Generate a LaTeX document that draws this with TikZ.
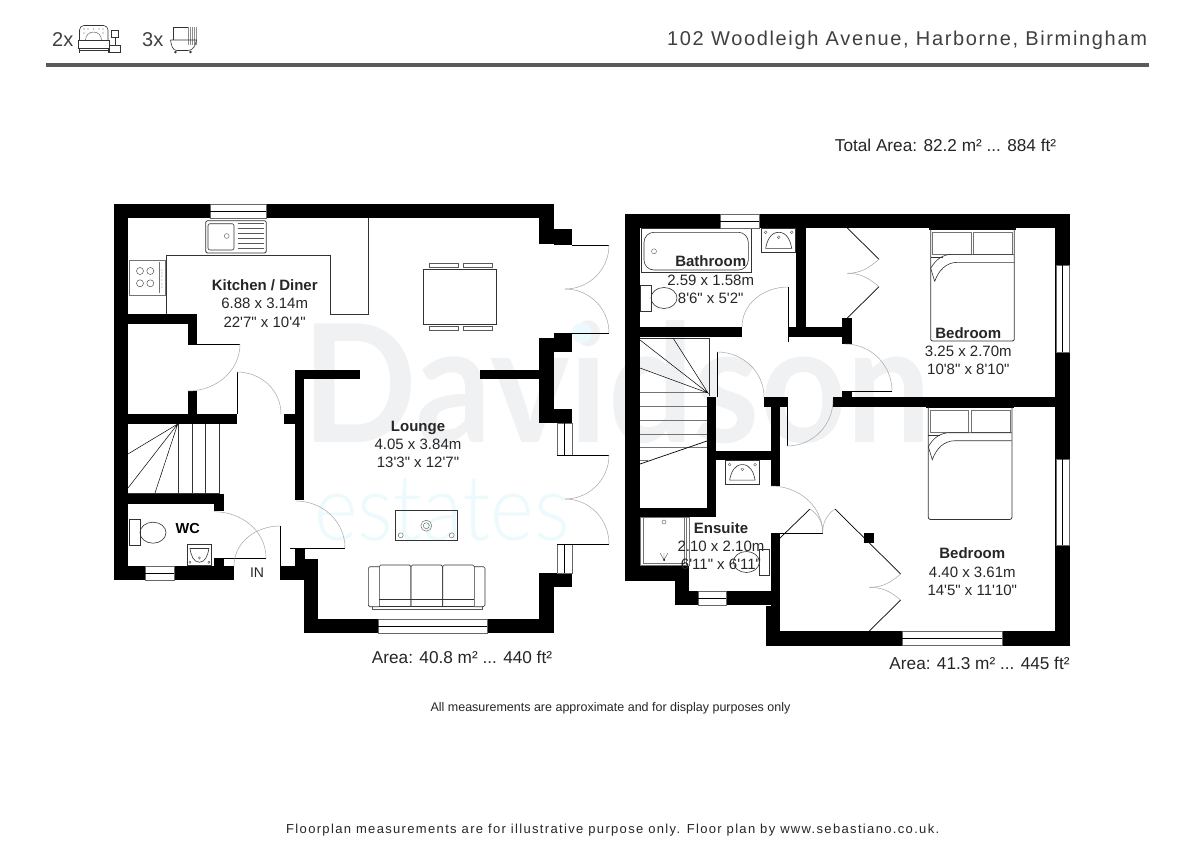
\documentclass[tikz,border=0pt]{standalone}
\usepackage{fontspec}
\newfontfamily\planfont{Liberation Sans}
\newfontfamily\headfont{Liberation Sans}[LetterSpace=8.3]
\newfontfamily\footfont{Liberation Sans}[LetterSpace=10.3]
\newfontfamily\markfont{Lato}
\newfontfamily\estatefont{Lato Light}
\definecolor{markgrey}{HTML}{F0F1F3}
\definecolor{markblue}{HTML}{ECFAFD}
\definecolor{rulegrey}{HTML}{5A5A5A}
\tikzset{
    toiletpic/.pic={
        \draw[kit] (0,0) rectangle (10.6,26);
        \draw[kit] (23.3,13) ellipse [x radius=13pt, y radius=10.5pt];
    },
    basinpic/.pic={
        \draw[kit,line width=.8pt] (0,0) rectangle (34,24.4);
        \draw[kit] (4,20) to[out=80,in=180] (17,4) to[out=0,in=100] (30,20) -- cycle;
        \foreach \cx/\cy in {4/4,30/4,17/9}
            \draw[thinkit] (\cx,\cy) circle [radius=1.4pt];
    },
    bedpic/.pic={
        \fill (-2,0) rectangle (85.6,1.5);
        \draw[kit,line width=.8pt,rounded corners=2pt] (0,0) -- (0,112.7) -- (83.6,112.7) -- (83.6,0);
        \draw[softkit] (1.6,4) rectangle (40.3,26);
        \draw[softkit] (42.6,4) rectangle (81.6,26);
        \draw[kit] (83.4,26) -- (22,26) to[out=180,in=60] (0,40) -- (4,53) to[out=70,in=180] (27,34) -- (83.4,34);
        \draw[kit] (0,29) -- (12,29);
    }
}
\begin{document}
\begin{tikzpicture}[x=1pt, y=-1pt,
    every node/.style={inner sep=0pt, font=\planfont},
    wall/.style={fill=black},
    kit/.style={draw=black!80, line width=.6pt},
    softkit/.style={draw=black!55, line width=.8pt},
    thinkit/.style={draw=black!65, line width=.4pt},
    doorleaf/.style={draw=black, line width=.7pt},
    doorswing/.style={draw=black!35, line width=.5pt},
    windowbox/.style={fill=white, draw=black!60, line width=.5pt},
    roomlabel/.style={align=center, text=black!85, font=\planfont\fontsize{15}{18.3}\selectfont},
    arealabel/.style={text=black!85, font=\planfont\fontsize{17.2}{18}\selectfont}]
    \useasboundingbox (0,0) rectangle (1200,848);
    \fill[white] (0,0) rectangle (1200,848);

    % logo behind the plan
    \node (markname) [anchor=base west, transform shape, xscale=.92, text=markgrey, font=\markfont\bfseries\fontsize{164}{164}\selectfont] at (302,442) {Davidson};
    \node (markplace) [anchor=base west, transform shape, xscale=.91, text=markblue, font=\estatefont\fontsize{92}{92}\selectfont] at (314,540) {estates};
    \fill[markblue] (581.7,333) circle [radius=10pt];

    % header
    \node (bedcount) [anchor=west, text=black!75, font=\planfont\fontsize{20}{20}\selectfont] at (52,40) {2x};
    \node (bathcount) [anchor=west, text=black!75, font=\planfont\fontsize{20}{20}\selectfont] at (142,40) {3x};
    \node (address) [anchor=west, text=black!75, font=\headfont\fontsize{20}{20}\selectfont] at (667,40) {102 Woodleigh Avenue, Harborne, Birmingham};
    \fill[rulegrey] (46,63.5) rectangle (1149,67.5);
    \draw[kit] (79.5,40) -- (79.5,30) to[out=90,in=180] (84,25.5) -- (103.5,25.5) to[out=0,in=90] (108,30) -- (108,40);
    \draw[thinkit] (85.5,40) arc [start angle=180, end angle=0, radius=8pt];
    \foreach \dx/\dy in {84/29,88/29,93.7/29,99/29,103/29,84/33,103/33}
        \fill[black!60] (\dx,\dy) circle [radius=.6pt];
    \draw[kit] (78,40) rectangle (109,48.3);
    \draw[kit] (79,48.3) -- (79,53.3) (108,48.3) -- (108,53.3) (79,50.5) -- (108,50.5);
    \draw[kit] (109.5,45) rectangle (120,52.3);
    \draw[kit] (114.8,37.7) -- (114.8,45);
    \draw[kit] (111.5,30.7) rectangle (117.8,37.7);
    \draw[kit] (173,40) -- (173,27) -- (196,27);
    \fill[black!45] (187.5,27) rectangle (197,45.5);
    \foreach \lx in {189,191,193,195}
        \draw[white, line width=.3pt] (\lx,27) -- (\lx,45.5);
    \draw[kit] (170.5,40) -- (196.5,40) to[out=-100,in=0] (188,50.5) -- (177,50.5) to[out=180,in=-80] (170.5,40);
    \fill[black!80] (175.5,52) circle [radius=1.4pt] (190.5,52) circle [radius=1.4pt];

    % kitchen and dining furniture
    \draw[kit] (368.3,218) -- (368.3,314) -- (330.7,314) -- (330.7,255.7) -- (166.3,255.7) -- (166.3,314);
    \draw[kit,line width=.8pt,rounded corners=1.5pt] (205.7,220.7) rectangle (266.3,253);
    \draw[kit,rounded corners=2pt] (208,223.7) rectangle (234,250);
    \draw[thinkit] (226.7,236) circle [radius=2.4pt];
    \foreach \ly in {223.3,228.2,233,238,243,247.7}
        \draw[thinkit] (237.7,\ly) -- (264.3,\ly);
    \draw[softkit,line width=.5pt] (129.7,260) rectangle (165,295);
    \draw[black!55,line width=.9pt] (159.3,262) -- (159.3,293);
    \foreach \hx/\hy in {140/271,150.3/271,140/283.3,150.3/283.3}
        \draw[kit,line width=.4pt] (\hx,\hy) circle [radius=3.5pt];
    \foreach \hy in {270,273,276,284,287,280}
        \fill[black!70] (161.8,\hy) circle [radius=.5pt];
    \draw[kit,line width=.9pt] (423,269.7) rectangle (496.3,324);
    \foreach \cx in {429.3,463.3}{
        \draw[thinkit] (\cx,263.3) rectangle ++(28.4,3.7);
        \draw[thinkit] (\cx,326.3) rectangle ++(28.4,4);
    }

    % lounge furniture
    \draw[kit] (395.3,510.7) rectangle (457,540.7);
    \draw[thinkit] (426.3,525.7) circle [radius=5.5pt] (426.3,525.7) circle [radius=3pt];
    \draw[thinkit] (400.7,535.3) circle [radius=2.5pt] (451.7,535.3) circle [radius=2.5pt];
    \draw[kit,rounded corners=1.5pt] (379.3,566.7) -- (368.3,566.7) -- (368.3,606.7) -- (379.3,606.7);
    \draw[kit,rounded corners=1.5pt] (474,566.7) -- (485,566.7) -- (485,606.7) -- (474,606.7);
    \foreach \sx in {379.3,411,442.7}
        \draw[kit,rounded corners=1.5pt] (\sx,606) -- (\sx,565) -- ++(31.6,0) -- ++(0,41);
    \draw[kit] (379.3,599) -- (474,599) (379.3,606) -- (474,606);
    \draw[thinkit] (371.7,606) -- (371.7,609.3) -- (481.7,609.3) -- (481.7,606);

    % ground floor stairs and WC
    \foreach \tx in {178.3,192,205.7,219.3}
        \draw[kit] (\tx,424) -- (\tx,494);
    \draw[kit] (128,493.5) -- (219.3,493.5);
    \draw[black,line width=.5pt] (128,454) -- (177.7,424) -- (128,488) (177.7,424) -- (155,493);
    \pic at (129.7,519.7) {toiletpic};
    \pic [xscale=.73, yscale=-.86] at (187,565.7) {basinpic};

    % upper floor stairs, bathroom and ensuite
    \draw[kit,line width=.5pt] (640,338) -- (709,338) -- (709,396);
    \foreach \ly in {392.7,406.7,420.7,434.7,447.3}
        \draw[black!55,line width=.7pt] (640,\ly) -- (707,\ly);
    \draw[black!55,line width=.7pt] (640,460) -- (648,460);
    \draw[black,line width=.5pt] (640,340) -- (708,393) -- (673,338) (640,368) -- (708,393);
    \draw[black,line width=.7pt] (640,464) -- (707,441);
    \draw[kit,line width=.9pt] (641.7,228.3) rectangle (751.7,272.7);
    \draw[kit,rounded corners=10pt] (644,232.3) rectangle (748.3,270);
    \draw[thinkit] (654,251.3) circle [radius=2.5pt];
    \pic at (640.7,285) {toiletpic};
    \pic at (761.7,228.3) {basinpic};
    \pic [xscale=.98, yscale=.97] at (725.7,460.7) {basinpic};
    \draw[softkit,line width=.5pt] (640.7,517.3) rectangle (686.7,565.7);
    \draw[softkit,line width=.5pt] (643,517.3) -- (643,563.5) -- (684.5,563.5) -- (684.5,517.3);
    \draw[softkit,line width=.7pt] (686.7,517.3) -- (689,517.3) -- (689,566);
    \draw[thinkit] (664,522) circle [radius=2pt];
    \draw[thinkit] (664,560) -- (664,553) (664,560) -- (660,553) (664,560) -- (668,553);
    \fill (664,560) circle [radius=1pt];
    \pic [xscale=-1] at (769.7,549) {toiletpic};

    % beds
    \pic at (930.7,228.3) {bedpic};
    \pic at (928.3,406.7) {bedpic};

    % walls, ground floor
    \foreach \xa/\ya/\xb/\yb in {114/204/554/218, 114/204/128/580, 114/566/234/580, 128/314/197/324,
        188/314/197/344, 188/391/197/414, 128/414/237/424, 128/494/224/504, 214/504/224/511,
        214/558/224/566, 280/566/304/580, 295/548/305/566, 304/559/318/633, 304/619/554/633,
        539/573/554/633, 539/573/572/587, 539/204/554/244, 554/229/572/245, 554/333/572/352,
        539/338/554/423, 539/409/572/423, 480/370/539/379, 295/370/304/500, 295/370/360/379,
        284/414/295/424}
        \fill[wall] (\xa,\ya) rectangle (\xb,\yb);
    % walls, upper floor
    \foreach \xa/\ya/\xb/\yb in {625/214/1070/228, 625/214/640/581, 1055/214/1070/646, 766/631/1070/646,
        771/533/780/646, 766/606/780/646, 675/591/771/605, 625/566/689/581, 675/566/689/605,
        640/508/716/517, 707/397/716/517, 716/451/771/460, 771/397/780/486, 764/397/787/407,
        796/228/806/327, 789/327/852/337, 640/327/742/337, 842/318/852/344, 833/397/1055/407,
        842/391/852/397}
        \fill[wall] (\xa,\ya) rectangle (\xb,\yb);

    % windows
    \foreach \xa/\ya/\xb/\yb in {210/204/266/218, 145/566/174/580, 378/619/487/633,
        720/214/759/228, 698/591/726/605, 902/631/1002/645}{
        \draw[windowbox] (\xa,\ya) rectangle (\xb,\yb);
        \draw[black,line width=.5pt] (\xa,{(\ya+\yb)/2}) -- (\xb,{(\ya+\yb)/2});
    }
    \foreach \xa/\ya/\xb/\yb in {557/423/572/455, 557/544/572/573, 1056/265/1069/352, 1056/459/1069/545}{
        \draw[windowbox] (\xa,\ya) rectangle (\xb,\yb);
        \draw[black,line width=.5pt] ({(\xa+\xb)/2},\ya) -- ({(\xa+\xb)/2},\yb);
    }

    % door leaves
    \draw[doorleaf] (188,344) -- (240,344);
    \draw[doorleaf] (237,372) -- (237,414);
    \draw[doorleaf] (290,548) -- (345,548);
    \draw[doorleaf] (224,558) -- (266,558);
    \draw[doorleaf] (280,526) -- (280,566);
    \draw[doorleaf] (572,245) -- (609,245);
    \draw[doorleaf] (572,333) -- (609,333);
    \draw[doorleaf] (557,455) -- (609,455);
    \draw[doorleaf] (557,544) -- (609,544);
    \draw[doorleaf] (788.3,287) -- (788.3,342);
    \draw[doorleaf] (717,352) -- (717,397);
    \draw[doorleaf] (787,397) -- (787,446);
    \draw[doorleaf] (845,391) -- (892,391);
    \draw[doorleaf] (780,533.3) -- (822.7,533.3);
    \draw[doorleaf] (780,538) -- (810,509);
    \draw[doorleaf] (835,509) -- (900.7,574);
    \draw[doorleaf] (900.7,600) -- (869.3,631);
    \draw[doorleaf] (847.3,228) -- (879,259.3);
    \draw[doorleaf] (879,286.7) -- (847.3,318);
    \fill (864.3,533) rectangle (874.3,543);

    % door swings
    \draw[doorswing] (240,344) to[out=-90,in=0] (188,391);
    \draw[doorswing] (237,372) to[out=0,in=90] (281,414);
    \draw[doorswing] (345,548) to[out=90,in=0] (296,501);
    \draw[doorswing] (266,558) to[out=90,in=0] (214,511.7);
    \draw[doorswing] (280,526) to[out=180,in=90] (234,566);
    \draw[doorswing] (609,245) to[out=-90,in=0] (565,289);
    \draw[doorswing] (609,333) to[out=90,in=0] (565,289);
    \draw[doorswing] (609,455) to[out=-90,in=0] (565,499);
    \draw[doorswing] (609,544) to[out=90,in=0] (565,499);
    \draw[doorswing] (788,287) to[out=180,in=90] (742,327);
    \draw[doorswing] (717,352) to[out=0,in=90] (764,397);
    \draw[doorswing] (787,446) to[out=0,in=-90] (833,400);
    \draw[doorswing] (892,391) to[out=90,in=0] (845,344);
    \draw[doorswing] (771,486) to[out=0,in=90] (822.7,533);
    \draw[doorswing] (810,509) to[out=-35,in=90] (822.7,533);
    \draw[doorswing] (835,509) to[out=-145,in=90] (822.7,533);
    \draw[doorswing] (879,259.3) to[out=-140,in=0] (847.3,273.3);
    \draw[doorswing] (879,286.7) to[out=140,in=0] (847.3,273.3);
    \draw[doorswing] (900.7,574) to[out=-140,in=0] (869.3,587.3);
    \draw[doorswing] (900.7,600) to[out=140,in=0] (869.3,587.3);

    % room labels
    \node (kitchen) [roomlabel] at (264.7,303.5) {{\bfseries Kitchen / Diner}\\6.88 x 3.14m\\22'7" x 10'4"};
    \node (lounge) [roomlabel] at (418,444.5) {{\bfseries Lounge}\\4.05 x 3.84m\\13'3" x 12'7"};
    \node (bathroom) [roomlabel] at (710.7,279.7) {{\bfseries Bathroom}\\2.59 x 1.58m\\8'6" x 5'2"};
    \node (ensuite) [roomlabel] at (721,546) {{\bfseries Ensuite}\\2.10 x 2.10m\\6'11" x 6'11"};
    \node (bedtop) [roomlabel] at (968.3,351) {{\bfseries Bedroom}\\3.25 x 2.70m\\10'8" x 8'10"};
    \node (bedlow) [roomlabel] at (972.3,571.7) {{\bfseries Bedroom}\\4.40 x 3.61m\\14'5" x 11'10"};
    \node (wc) [font=\planfont\bfseries\fontsize{14.5}{14}\selectfont] at (187.7,529) {WC};
    \node (entry) [text=black!85, font=\planfont\fontsize{14}{14}\selectfont] at (257,573) {IN};

    % areas and notes
    \node (total) [arealabel] at (945.5,145.5) {Total Area: 82.2 m² ... 884 ft²};
    \node (areaground) [arealabel] at (462,657.5) {Area: 40.8 m² ... 440 ft²};
    \node (areaupper) [arealabel] at (979.5,663.5) {Area: 41.3 m² ... 445 ft²};
    \node (disclaimer) [text=black!85, font=\planfont\fontsize{12.5}{12}\selectfont] at (610.5,708) {All measurements are approximate and for display purposes only};
    \node (credit) [anchor=west, text=black!85, font=\footfont\fontsize{13}{13}\selectfont] at (286,830) {Floorplan measurements are for illustrative purpose only. Floor plan by www.sebastiano.co.uk.};
\end{tikzpicture}
\end{document}
